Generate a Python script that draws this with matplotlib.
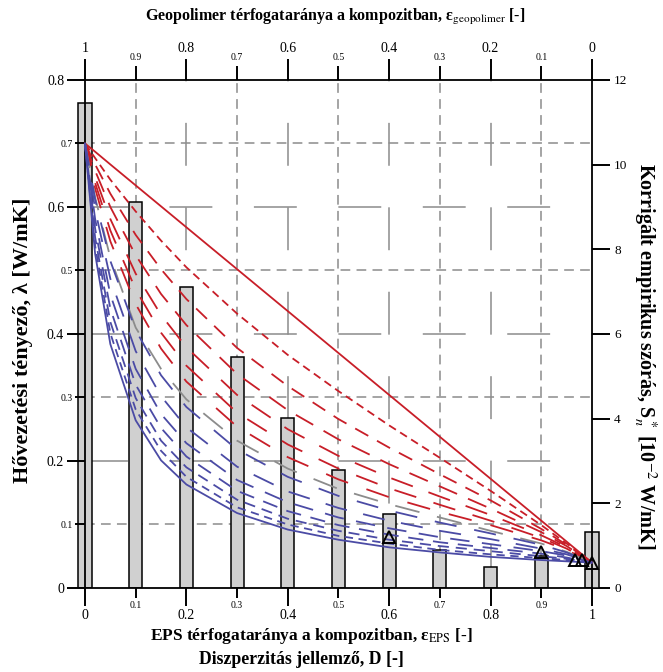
import matplotlib.pyplot as plt
from matplotlib.ticker import MultipleLocator, FuncFormatter

plt.rcParams["font.family"] = ["Liberation Serif", "DejaVu Serif"]
plt.rcParams["mathtext.fontset"] = "stix"
plt.rcParams["lines.scale_dashes"] = False

# EPS volume fraction where the model curves are read
eps_curve = [0, 0.02, 0.05, 0.1, 0.15, 0.2, 0.3, 0.4, 0.5, 0.6, 0.7, 0.8, 0.9, 0.95, 1.0]

lam_parallel = [0.70, 0.687, 0.667, 0.634, 0.601, 0.568, 0.502, 0.436, 0.370, 0.304, 0.238, 0.172, 0.106, 0.073, 0.04]
red_1 = [0.70, 0.677, 0.643, 0.593, 0.547, 0.505, 0.432, 0.367, 0.310, 0.256, 0.205, 0.153, 0.099, 0.070, 0.04]
red_2 = [0.70, 0.667, 0.621, 0.556, 0.502, 0.455, 0.378, 0.318, 0.266, 0.221, 0.179, 0.138, 0.093, 0.068, 0.04]
red_3 = [0.70, 0.657, 0.600, 0.524, 0.463, 0.414, 0.337, 0.280, 0.234, 0.195, 0.160, 0.125, 0.088, 0.066, 0.04]
red_4 = [0.70, 0.647, 0.581, 0.495, 0.430, 0.379, 0.304, 0.250, 0.208, 0.174, 0.144, 0.115, 0.083, 0.064, 0.04]
red_5 = [0.70, 0.638, 0.563, 0.470, 0.402, 0.350, 0.276, 0.226, 0.188, 0.157, 0.131, 0.106, 0.079, 0.062, 0.04]
red_6 = [0.70, 0.629, 0.546, 0.447, 0.377, 0.325, 0.254, 0.206, 0.171, 0.143, 0.120, 0.099, 0.075, 0.060, 0.04]
gray_mid = [0.70, 0.615, 0.520, 0.410, 0.345, 0.297, 0.232, 0.188, 0.156, 0.132, 0.111, 0.090, 0.070, 0.057, 0.04]
blue_1 = [0.70, 0.612, 0.515, 0.406, 0.335, 0.285, 0.218, 0.175, 0.145, 0.122, 0.103, 0.086, 0.068, 0.056, 0.04]
blue_2 = [0.70, 0.596, 0.487, 0.373, 0.302, 0.253, 0.191, 0.152, 0.126, 0.106, 0.090, 0.077, 0.062, 0.053, 0.04]
blue_3 = [0.70, 0.581, 0.462, 0.345, 0.274, 0.228, 0.170, 0.135, 0.111, 0.094, 0.080, 0.069, 0.058, 0.051, 0.04]
blue_4 = [0.70, 0.566, 0.440, 0.320, 0.252, 0.207, 0.153, 0.121, 0.099, 0.084, 0.072, 0.063, 0.054, 0.048, 0.04]
blue_5 = [0.70, 0.552, 0.419, 0.299, 0.232, 0.190, 0.139, 0.109, 0.090, 0.076, 0.066, 0.058, 0.050, 0.046, 0.04]
blue_6 = [0.70, 0.539, 0.401, 0.281, 0.216, 0.175, 0.127, 0.100, 0.082, 0.070, 0.060, 0.053, 0.047, 0.044, 0.04]
lam_series = [0.70, 0.526, 0.384, 0.264, 0.201, 0.163, 0.118, 0.092, 0.076, 0.064, 0.056, 0.049, 0.044, 0.042, 0.04]

# corrected empirical scatter (right axis, 10^-2 W/mK)
eps_bar = [0, 0.1, 0.2, 0.3, 0.4, 0.5, 0.6, 0.7, 0.8, 0.9, 1.0]
sn_bar = [11.46, 9.12, 7.12, 5.46, 4.02, 2.79, 1.75, 0.90, 0.50, 0.75, 1.33]

# measured points
eps_meas = [0.6, 0.9, 0.966, 0.98, 1.0]
lam_meas = [0.080, 0.057, 0.044, 0.044, 0.040]

RED = "#c81e28"
BLUE = "#4b4ba5"
GRAY = "#8c8c8c"

fig = plt.figure(figsize=(6.63, 6.72), dpi=100)
ax = fig.add_axes([0.1129, 0.125, 0.7953, 0.756])
ax2 = ax.twinx()
ax.set_zorder(ax2.get_zorder() + 1)
ax.patch.set_visible(False)

ax.set_xlim(-0.02, 1.02)
ax.set_ylim(0, 0.8)
ax2.set_ylim(0, 12)

# grid, drawn behind the bars
for v in [0.1, 0.3, 0.5, 0.7]:
    ax2.plot([0, 1], [v, v], transform=ax.transData, color=GRAY, lw=1.1,
             dashes=(7, 4.5), zorder=1)
for v in [0.1, 0.3, 0.5, 0.7, 0.9]:
    ax2.plot([v, v], [0, 0.8], transform=ax.transData, color=GRAY, lw=1.1,
             dashes=(7, 4.5), zorder=1)
for v in [0.2, 0.4, 0.6]:
    ax2.plot([0, 1], [v, v], transform=ax.transData, color=GRAY, lw=1.1,
             dashes=(30.9, 29.9), zorder=1)
for v in [0.2, 0.4, 0.6, 0.8]:
    ax2.plot([v, v], [0, 0.8], transform=ax.transData, color=GRAY, lw=1.1,
             dashes=(30.9, 29.9), zorder=1)

ax2.bar(eps_bar, sn_bar, width=0.026, color="#d0d0d0", edgecolor="black",
        linewidth=1.1, zorder=2)

ax.plot(eps_curve, lam_parallel, color=RED, lw=1.3, zorder=3)
red_dashes = [(5.8, 3.6), (10.8, 7.2), (14.4, 8.6), (16.5, 12), (16.5, 13), (17, 14)]
for ys, d in zip([red_1, red_2, red_3, red_4, red_5, red_6], red_dashes):
    ax.plot(eps_curve, ys, color=RED, lw=1.3, dashes=d, zorder=3)
ax.plot(eps_curve, gray_mid, color=GRAY, lw=1.3, dashes=(18, 13), zorder=3)
blue_dashes = [(16, 13), (16, 12), (14, 9), (11, 7), (8, 5), (6, 4)]
for ys, d in zip([blue_1, blue_2, blue_3, blue_4, blue_5, blue_6], blue_dashes):
    ax.plot(eps_curve, ys, color=BLUE, lw=1.3, dashes=d, zorder=3)
ax.plot(eps_curve, lam_series, color=BLUE, lw=1.3, zorder=3)

ax.plot(eps_meas, lam_meas, linestyle="none", marker="^", markersize=9,
        markerfacecolor="none", markeredgecolor="black", markeredgewidth=1.4,
        zorder=4, clip_on=False)

# spines
for side in ["left", "right", "top", "bottom"]:
    ax.spines[side].set_linewidth(1.3)
ax.spines["left"].set_position(("data", 0))
ax.spines["left"].set_bounds(0, 0.8)
ax.spines["bottom"].set_bounds(0, 1)
ax.spines["top"].set_bounds(0, 1)
ax.spines["right"].set_visible(False)
for side in ["left", "top", "bottom"]:
    ax2.spines[side].set_visible(False)
ax2.spines["right"].set_position(("data", 1))
ax2.spines["right"].set_bounds(0, 12)
ax2.spines["right"].set_linewidth(1.3)

fmt = FuncFormatter(lambda v, p: "%g" % round(v, 3))

ax.set_xticks([0, 0.2, 0.4, 0.6, 0.8, 1.0])
ax.set_xticks([0.1, 0.3, 0.5, 0.7, 0.9], minor=True)
ax.set_yticks([0, 0.2, 0.4, 0.6, 0.8])
ax.set_yticks([0.1, 0.3, 0.5, 0.7], minor=True)
for a in [ax.xaxis, ax.yaxis]:
    a.set_major_formatter(fmt)
    a.set_minor_formatter(fmt)
ax.tick_params(which="major", direction="out", length=13, width=1.4,
               labelsize=10, pad=2)
ax.tick_params(which="minor", direction="out", length=7, width=1.4,
               labelsize=7, pad=2)
ax.tick_params(axis="x", which="both", top=False)

sec = ax.secondary_xaxis("top", functions=(lambda x: 1 - x, lambda x: 1 - x))
sec.spines["top"].set_visible(False)
sec.set_xticks([1, 0.8, 0.6, 0.4, 0.2, 0])
sec.set_xticks([0.9, 0.7, 0.5, 0.3, 0.1], minor=True)
sec.xaxis.set_major_formatter(fmt)
sec.xaxis.set_minor_formatter(fmt)
sec.tick_params(which="major", direction="out", length=15, width=1.4,
                labelsize=10, pad=3)
sec.tick_params(which="minor", direction="out", length=10, width=1.4,
                labelsize=7, pad=3)

ax2.set_yticks([0, 2, 4, 6, 8, 10, 12])
ax2.tick_params(axis="y", direction="out", length=13, width=1.4,
                labelsize=9.5, pad=3)

fig.text(0.505, 0.975,
         r"Geopolimer térfogataránya a kompozitban, ε$_{\mathrm{geopolimer}}$ [-]",
         ha="center", va="center", fontsize=11.5, fontweight="bold")
fig.text(0.47, 0.053, r"EPS térfogataránya a kompozitban, ε$_{\mathrm{EPS}}$ [-]",
         ha="center", va="center", fontsize=12.5, fontweight="bold")
fig.text(0.455, 0.018, "Diszperzitás jellemző, D [-]", ha="center", va="center",
         fontsize=12.8, fontweight="bold")
fig.text(0.035, 0.494, "Hővezetési tényező, λ [W/mK]", rotation=90,
         ha="center", va="center", fontsize=16, fontweight="bold")
fig.text(0.972, 0.47, r"Korrigált empirikus szórás, S$_n^*$ [10$^{-2}$ W/mK]",
         rotation=270, ha="center", va="center", fontsize=14.5, fontweight="bold")

fig.savefig("out.png", dpi=100)
